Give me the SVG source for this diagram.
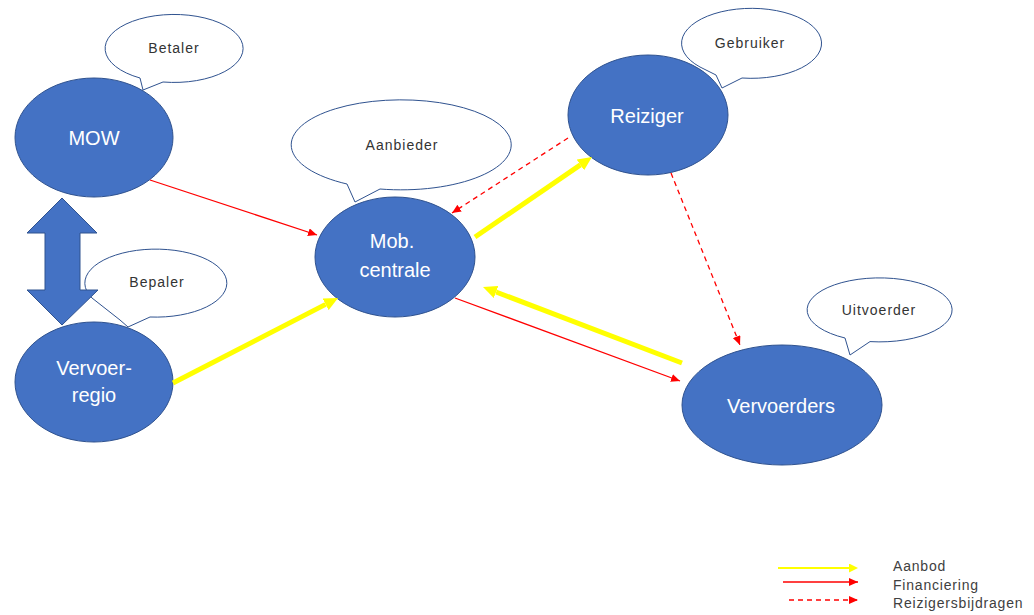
<svg xmlns="http://www.w3.org/2000/svg" width="1034" height="615" viewBox="0 0 1034 615">
<style>
.node{fill:#4472C4;stroke:#2F528F;stroke-width:1}
.bubble{fill:#ffffff;stroke:#2F528F;stroke-width:1;stroke-linejoin:round}
.nt{font-family:"Liberation Sans",Arial,sans-serif;font-size:20px;fill:#ffffff;text-anchor:middle}
.bt{font-family:"Liberation Sans",Arial,sans-serif;font-size:14px;fill:#333333;text-anchor:middle;letter-spacing:1px}
.lt{font-family:"Liberation Sans",Arial,sans-serif;font-size:14px;fill:#404040;letter-spacing:0.8px}
.yel{stroke:#FFFF00;stroke-width:5;fill:none}
.red{stroke:#FF0000;stroke-width:1.3;fill:none}
.dash{stroke:#FF0000;stroke-width:1.3;fill:none;stroke-dasharray:5,4}
</style>
<defs>
<marker id="yh" markerUnits="userSpaceOnUse" markerWidth="14" markerHeight="13" refX="0" refY="6.5" orient="auto">
<path d="M0,0 L14,6.5 L0,13 z" fill="#FFFF00"/>
</marker>
<marker id="yhs" markerUnits="userSpaceOnUse" markerWidth="9" markerHeight="9" refX="0" refY="4.5" orient="auto">
<path d="M0,0 L9,4.5 L0,9 z" fill="#FFFF00"/>
</marker>
<marker id="rh" markerUnits="userSpaceOnUse" markerWidth="10" markerHeight="8" refX="9" refY="4" orient="auto">
<path d="M0,0 L9,4 L0,8 z" fill="#FF0000"/>
</marker>
</defs>
<rect width="1034" height="615" fill="#ffffff"/>

<g id="node-mow">
<ellipse class="node" cx="94" cy="137.5" rx="79" ry="59.5"/>
<text class="nt" x="94" y="145">MOW</text>
</g>
<g id="bubble-betaler">
<path class="bubble" d="M140 78 A69 34 0 1 1 163 82 L143 90 Z"/>
<text class="bt" x="174" y="53">Betaler</text>
</g>

<g id="node-vervoerregio">
<ellipse class="node" cx="94" cy="382" rx="79" ry="60"/>
<text class="nt" x="94" y="375">Vervoer-</text>
<text class="nt" x="94" y="402">regio</text>
</g>
<g id="bubble-bepaler">
<path class="bubble" d="M92 298 A71 34 0 1 1 150 317 L128 327 L120 320 Z"/>
<text class="bt" x="157" y="287">Bepaler</text>
</g>

<g id="node-mob">
<ellipse class="node" cx="395" cy="257" rx="80" ry="60"/>
<text class="nt" x="392" y="248">Mob.</text>
<text class="nt" x="395" y="277">centrale</text>
</g>
<g id="bubble-aanbieder">
<path class="bubble" d="M347 184 A110 45 0 1 1 380 189 L355 202 Z"/>
<text class="bt" x="402" y="150">Aanbieder</text>
</g>

<g id="node-reiziger">
<ellipse class="node" cx="648" cy="115" rx="80" ry="60"/>
<text class="nt" x="647" y="123">Reiziger</text>
</g>
<g id="bubble-gebruiker">
<path class="bubble" d="M700 67 A70 35 0 1 1 742 78 L722 88 L716 75 Z"/>
<text class="bt" x="750" y="48">Gebruiker</text>
</g>

<g id="node-vervoerders">
<ellipse class="node" cx="782" cy="405" rx="100" ry="60"/>
<text class="nt" x="781" y="413">Vervoerders</text>
</g>
<g id="bubble-uitvoerder">
<path class="bubble" d="M845 338 A72.5 32 0 1 1 870 341.6 L850 355 Z"/>
<text class="bt" x="879" y="315">Uitvoerder</text>
</g>

<g id="connectors">
<line class="red" x1="150" y1="180" x2="317" y2="235" marker-end="url(#rh)"/>
<line class="red" x1="455" y1="298" x2="680" y2="381" marker-end="url(#rh)"/>
<line class="dash" x1="568" y1="138" x2="452" y2="213" marker-end="url(#rh)"/>
<line class="dash" x1="671" y1="173" x2="740" y2="345" marker-end="url(#rh)"/>
<line class="yel" x1="173" y1="383" x2="325.6" y2="304.4" marker-end="url(#yh)"/>
<line class="yel" x1="475" y1="237" x2="580.4" y2="164.9" marker-end="url(#yh)"/>
<line class="yel" x1="682" y1="363" x2="496.1" y2="292" marker-end="url(#yh)"/>
<polygon id="double-arrow" class="node" points="62,198 97,233 80,233 80,290 98,290 62,325 27,290 45,290 45,233 27,233"/>
</g>

<g id="legend">
<line stroke="#FFFF00" stroke-width="2" x1="778" y1="568" x2="849" y2="568" marker-end="url(#yhs)"/>
<line class="red" x1="783" y1="582" x2="858" y2="582" marker-end="url(#rh)"/>
<line class="dash" x1="789" y1="600" x2="858" y2="600" marker-end="url(#rh)"/>
<text class="lt" x="893" y="571">Aanbod</text>
<text class="lt" x="893" y="590">Financiering</text>
<text class="lt" x="893" y="608">Reizigersbijdragen</text>
</g>
</svg>
